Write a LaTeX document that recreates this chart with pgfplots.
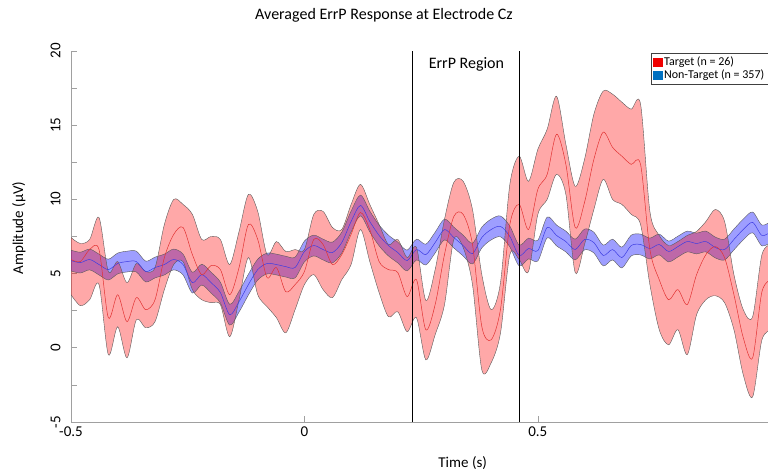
\documentclass[border=0pt]{standalone}
\usepackage{fontspec}
\setmainfont{Carlito}
\usepackage{pgfplots}
\usepackage{pgfplotstable}
\pgfplotsset{compat=1.18}
\usepgfplotslibrary{fillbetween}

\definecolor{edge}{RGB}{90,90,90}
\definecolor{axgray}{RGB}{160,160,160}
\definecolor{legred}{RGB}{240,0,0}
\definecolor{legblue}{RGB}{0,112,192}
\definecolor{redline}{RGB}{225,50,50}
\definecolor{blueline}{RGB}{60,60,225}

% Target: lower, mean, upper
\pgfplotstableread{
x rl rm ru
-0.50 3.58 5.95 7.43
-0.48 2.84 5.81 7.03
-0.46 3.24 6.62 7.30
-0.44 4.26 6.62 8.78
-0.42 -0.47 2.03 5.14
-0.40 1.42 3.58 5.81
-0.38 -0.68 1.76 4.39
-0.36 1.89 3.38 5.68
-0.34 1.35 2.57 5.14
-0.32 1.76 3.24 5.41
-0.30 3.92 6.08 8.31
-0.28 5.61 7.64 10.00
-0.26 5.81 8.11 9.66
-0.24 3.92 6.28 8.99
-0.22 3.24 4.93 7.30
-0.20 3.04 5.54 7.50
-0.18 2.91 5.27 7.30
-0.16 0.74 3.58 5.61
-0.14 3.24 5.41 7.84
-0.12 6.08 8.31 10.34
-0.10 3.58 7.30 9.19
-0.08 2.77 4.73 6.28
-0.06 2.03 5.41 7.16
-0.04 1.01 3.78 6.49
-0.02 2.57 4.26 6.62
0.00 4.26 5.14 6.62
0.02 4.93 7.30 8.99
0.04 3.92 6.96 9.19
0.06 3.38 5.61 8.11
0.08 4.59 6.28 7.97
0.10 5.61 7.64 9.66
0.12 7.97 9.12 11.01
0.14 5.81 7.97 9.66
0.16 3.72 5.81 8.31
0.18 2.09 5.27 6.96
0.20 2.43 5.07 7.30
0.22 1.08 3.45 6.08
0.24 2.03 4.59 6.76
0.26 -0.81 1.22 3.20
0.28 0.88 2.91 5.27
0.30 2.90 6.28 8.65
0.32 7.30 8.85 11.15
0.34 6.76 8.99 11.22
0.36 4.26 6.96 9.32
0.38 -1.49 1.42 4.93
0.40 -1.01 0.54 2.57
0.42 1.00 2.60 4.40
0.44 6.28 8.31 11.01
0.46 5.95 9.66 12.91
0.48 5.14 7.97 11.22
0.50 8.99 10.68 13.38
0.52 10.00 11.69 14.73
0.54 11.69 14.39 16.96
0.56 10.34 12.36 13.72
0.58 5.07 8.11 10.88
0.60 6.96 9.80 12.70
0.62 9.32 12.70 15.74
0.64 11.35 14.53 17.30
0.66 10.00 13.51 17.09
0.68 9.66 12.91 16.55
0.70 8.99 12.36 16.08
0.72 8.31 12.36 16.42
0.74 4.26 6.62 9.19
0.76 1.22 4.59 7.57
0.78 0.20 3.24 6.89
0.80 1.22 3.92 7.16
0.82 -0.47 2.91 7.57
0.84 2.23 4.93 7.84
0.86 3.24 6.28 8.51
0.88 3.51 6.82 9.32
0.90 3.04 6.08 8.51
0.92 1.22 3.58 4.93
0.94 -1.82 0.68 2.57
0.96 -3.31 -0.68 2.09
0.98 0.54 3.78 6.28
1.00 1.22 4.59 6.96
}\target

% Non-target: lower, mean, upper
\pgfplotstableread{
x bl bm bu
-0.50 5.18 5.88 6.58
-0.48 5.04 5.74 6.44
-0.46 5.25 5.95 6.65
-0.44 4.91 5.61 6.31
-0.42 4.57 5.27 5.97
-0.40 4.98 5.68 6.38
-0.38 5.11 5.81 6.51
-0.36 5.11 5.81 6.51
-0.34 4.44 5.14 5.84
-0.32 4.71 5.41 6.11
-0.30 4.91 5.61 6.31
-0.28 5.25 5.95 6.65
-0.26 4.91 5.61 6.31
-0.24 3.69 4.39 5.09
-0.22 4.23 4.93 5.63
-0.20 3.69 4.39 5.09
-0.18 3.02 3.72 4.42
-0.16 1.53 2.23 2.93
-0.14 2.41 3.11 3.81
-0.12 3.56 4.26 4.96
-0.10 4.57 5.27 5.97
-0.08 4.98 5.68 6.38
-0.06 4.91 5.61 6.31
-0.04 4.77 5.47 6.17
-0.02 4.71 5.41 6.11
0.00 5.79 6.49 7.19
0.02 6.19 6.89 7.59
0.04 5.92 6.62 7.32
0.06 5.72 6.42 7.12
0.08 6.39 7.09 7.79
0.10 7.81 8.51 9.21
0.12 8.89 9.59 10.29
0.14 7.81 8.51 9.21
0.16 6.87 7.57 8.27
0.18 6.19 6.89 7.59
0.20 5.72 6.42 7.12
0.22 5.18 5.88 6.58
0.24 5.92 6.62 7.32
0.26 5.58 6.28 6.98
0.28 6.39 7.09 7.79
0.30 7.27 7.97 8.67
0.32 6.73 7.43 8.13
0.34 6.19 6.89 7.59
0.36 5.65 6.35 7.05
0.38 6.73 7.43 8.13
0.40 7.27 7.97 8.67
0.42 7.48 8.18 8.88
0.44 6.80 7.50 8.20
0.46 5.52 6.22 6.92
0.48 5.99 6.69 7.39
0.50 5.85 6.55 7.25
0.52 7.41 8.11 8.81
0.54 6.87 7.57 8.27
0.56 6.46 7.16 7.86
0.58 5.92 6.62 7.32
0.60 6.60 7.30 8.00
0.62 6.39 7.09 7.79
0.64 5.52 6.22 6.92
0.66 5.92 6.62 7.32
0.68 5.38 6.08 6.78
0.70 6.19 6.89 7.59
0.72 6.26 6.96 7.66
0.74 5.99 6.69 7.39
0.76 6.26 6.96 7.66
0.78 5.79 6.49 7.19
0.80 6.12 6.82 7.52
0.82 6.46 7.16 7.86
0.84 6.33 7.03 7.73
0.86 6.46 7.16 7.86
0.88 6.06 6.76 7.46
0.90 5.92 6.62 7.32
0.92 6.60 7.30 8.00
0.94 7.27 7.97 8.67
0.96 7.75 8.45 9.15
0.98 6.87 7.57 8.27
1.00 7.14 7.84 8.54
}\nontarget

\begin{document}
\begin{tikzpicture}
\begin{axis}[
  set layers,
  scale only axis, width=697pt, height=371pt,
  anchor=south west, at={(0pt,0pt)},
  xmin=-0.5, xmax=0.993, ymin=-5, ymax=20,
  axis x line*=bottom, axis y line*=left,
  axis line style={-, draw=axgray, line width=0.8pt},
  xtick={-0.5,0,0.5},
  ytick={-5,0,...,20},
  minor ytick={-2.5,2.5,...,17.5},
  tick align=inside,
  major tick length=6pt, minor tick length=6pt,
  tick style={axgray, line width=0.7pt},
  /pgf/number format/assume math mode=true,
  ticklabel style={font=\fontsize{15}{18}\selectfont},
  yticklabel style={rotate=90, anchor=south},
  yticklabel shift=7pt,
  xticklabel style={anchor=north, yshift=-1pt},
  title={Averaged ErrP Response at Electrode Cz},
  title style={at={(axis description cs:0.449,1.079)}, anchor=center,
    font=\fontsize{16}{19}\selectfont},
  xlabel={Time (s)},
  xlabel style={at={(axis description cs:0.562,-0.112)}, anchor=center,
    font=\fontsize{15}{18}\selectfont},
  ylabel={Amplitude (μV)},
  ylabel style={at={(axis description cs:-0.075,0.523)}, anchor=center,
    font=\fontsize{15}{18}\selectfont},
  legend cell align=left,
  legend style={at={(rel axis cs:1,1)}, anchor=north east, yshift=-2pt,
    draw=black!75, line width=0.5pt, inner sep=1.5pt, row sep=-1pt,
    font=\fontsize{12}{14}\selectfont},
  legend image code/.code={\fill[#1] (0pt,-4pt) rectangle (8.5pt,4pt);},
]
% non-target band
\addplot[name path=bU, draw=edge, line width=0.4pt, smooth, forget plot] table[x=x, y=bu] {\nontarget};
\addplot[name path=bL, draw=edge, line width=0.4pt, smooth, forget plot] table[x=x, y=bl] {\nontarget};
\addplot[fill=blue, fill opacity=0.38, draw=none, forget plot] fill between[of=bU and bL];
% target band
\addplot[name path=rU, draw=edge, line width=0.4pt, smooth, forget plot] table[x=x, y=ru] {\target};
\addplot[name path=rL, draw=edge, line width=0.4pt, smooth, forget plot] table[x=x, y=rl] {\target};
\addplot[fill=red, fill opacity=0.34, draw=none, forget plot] fill between[of=rU and rL];
% means
\addplot[blueline, line width=0.5pt, smooth, forget plot] table[x=x, y=bm] {\nontarget};
\addplot[redline, line width=0.5pt, smooth, forget plot] table[x=x, y=rm] {\target};
% ErrP region
\addplot[black, line width=1.2pt, forget plot] coordinates {(0.232,-5) (0.232,20)};
\addplot[black, line width=1.2pt, forget plot] coordinates {(0.461,-5) (0.461,20)};
\node[font=\fontsize{16}{19}\selectfont] at (axis cs:0.347,19.1) {ErrP Region};
\addlegendimage{legred}
\addlegendentry{Target (n = 26)}
\addlegendimage{legblue}
\addlegendentry{Non-Target (n = 357)}
\end{axis}
\pgfresetboundingbox
\useasboundingbox (-71pt,-51pt) rectangle (697pt,422pt);
\end{tikzpicture}
\end{document}
